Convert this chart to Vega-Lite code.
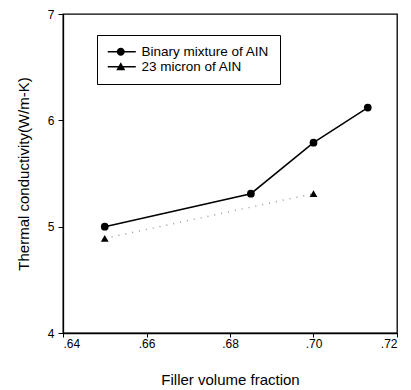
{
  "$schema": "https://vega.github.io/schema/vega-lite/v6.json",
  "width": 334,
  "height": 319,
  "autosize": {"type": "none"},
  "padding": {"left": 63, "top": 14, "right": 14, "bottom": 57},
  "background": "white",
  "config": {
    "font": "Liberation Sans",
    "view": {"stroke": "black", "strokeWidth": 1.3},
    "axis": {
      "grid": false,
      "domainColor": "black",
      "domainWidth": 1.3,
      "tickColor": "black",
      "labelColor": "black",
      "titleColor": "black",
      "labelFontSize": 12,
      "titleFontSize": 15,
      "titleFontWeight": "normal"
    }
  },
  "data": {
    "values": [
      {"series": "Binary mixture of AIN", "x": 0.65, "y": 5.0},
      {"series": "Binary mixture of AIN", "x": 0.685, "y": 5.31},
      {"series": "Binary mixture of AIN", "x": 0.70, "y": 5.79},
      {"series": "Binary mixture of AIN", "x": 0.713, "y": 6.12},
      {"series": "23 micron of AIN", "x": 0.65, "y": 4.89},
      {"series": "23 micron of AIN", "x": 0.70, "y": 5.31}
    ]
  },
  "resolve": {"scale": {"shape": "independent"}},
  "layer": [
    {
      "transform": [{"filter": "datum.series === '23 micron of AIN'"}],
      "mark": {"type": "line", "stroke": "#9a9a9a", "strokeDash": [1, 6], "strokeWidth": 1.5},
      "encoding": {
        "x": {
          "field": "x", "type": "quantitative",
          "scale": {"domain": [0.64, 0.72], "nice": false, "zero": false},
          "axis": {
            "title": "Filler volume fraction",
            "values": [0.64, 0.66, 0.68, 0.70, 0.72],
            "labelExpr": "replace(format(datum.value, '.2f'), '0.', '.')",
            "tickSize": 4,
            "labelPadding": 1,
            "titlePadding": 23
          }
        },
        "y": {
          "field": "y", "type": "quantitative",
          "scale": {"domain": [4, 7], "nice": false, "zero": false},
          "axis": {
            "title": "Thermal conductivity(W/m-K)",
            "values": [4, 5, 6, 7],
            "format": "d",
            "tickSize": 5,
            "labelPadding": 4,
            "titlePadding": 16
          }
        }
      }
    },
    {
      "transform": [{"filter": "datum.series === 'Binary mixture of AIN'"}],
      "mark": {"type": "line", "stroke": "black", "strokeWidth": 1.5},
      "encoding": {
        "x": {"field": "x", "type": "quantitative"},
        "y": {"field": "y", "type": "quantitative"}
      }
    },
    {
      "mark": {"type": "point", "filled": true, "color": "black", "opacity": 1, "size": 60},
      "encoding": {
        "x": {"field": "x", "type": "quantitative"},
        "y": {"field": "y", "type": "quantitative"},
        "shape": {
          "field": "series", "type": "nominal",
          "scale": {"domain": ["Binary mixture of AIN", "23 micron of AIN"], "range": ["circle", "triangle-up"]},
          "legend": null
        }
      }
    },
    {
      "mark": {"type": "point", "filled": true, "color": "black", "opacity": 0, "size": 60},
      "encoding": {
        "x": {"field": "x", "type": "quantitative"},
        "y": {"field": "y", "type": "quantitative"},
        "shape": {
          "field": "series", "type": "nominal",
          "scale": {
            "domain": ["Binary mixture of AIN", "23 micron of AIN"],
            "range": [
              "M-1,-0.12H3.67V0.12H-1ZM1.84,0A0.67,0.67,0,1,1,0.5,0A0.67,0.67,0,1,1,1.84,0Z",
              "M-1,-0.12H3.67V0.12H-1ZM1.17,-0.75L1.92,0.58L0.42,0.58Z"
            ]
          },
          "legend": {
            "title": null,
            "orient": "none",
            "legendX": 34,
            "legendY": 21,
            "strokeColor": "black",
            "fillColor": "white",
            "padding": 10,
            "symbolSize": 144,
            "symbolFillColor": "black",
            "symbolStrokeWidth": 0,
            "symbolOpacity": 1,
            "rowPadding": 0,
            "labelOffset": 21,
            "labelFontSize": 13.5,
            "labelColor": "black",
            "labelLimit": 300
          }
        }
      }
    }
  ]
}
